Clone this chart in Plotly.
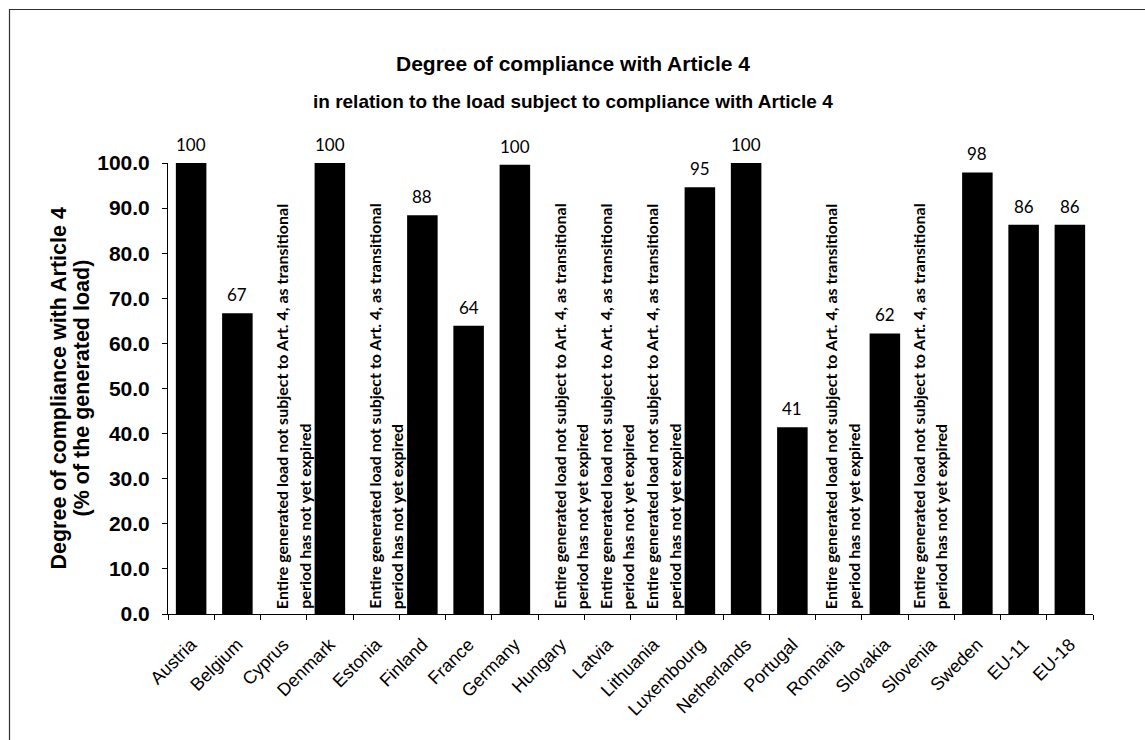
import plotly.graph_objects as go

# ---- data -------------------------------------------------------------
countries = ["Austria", "Belgium", "Cyprus", "Denmark", "Estonia", "Finland",
             "France", "Germany", "Hungary", "Latvia", "Lithuania",
             "Luxembourg", "Netherlands", "Portugal", "Romania", "Slovakia",
             "Slovenia", "Sweden", "EU-11", "EU-18"]
# % of generated load in compliance; None = transitional period still running
compliance = [100.0, 66.7, None, 100.0, None, 88.4, 63.9, 99.6, None, None,
              None, 94.6, 100.0, 41.4, None, 62.2, None, 97.9, 86.3, 86.3]
y_ticks = [0, 10, 20, 30, 40, 50, 60, 70, 80, 90, 100]

title = "Degree of compliance with Article 4"
subtitle = "in relation to the load subject to compliance with Article 4"
y_title = ["Degree of compliance with Article 4", "(% of the generated load)"]
note_lines = ["Entire generated load not subject to Art. 4, as transitional",
              "period has not yet expired"]

# ---- layout geometry (pixels) -----------------------------------------
W, H = 1145, 740
L, R, T, B = 168, 1093, 163, 614


def px_x(p):
    return (p - L) / (R - L)


def px_y(p):
    return (B - p) / (B - T)


ARIAL = "Liberation Sans, Arial, sans-serif"
NOTE_FONT = "Lato, Carlito, Calibri, sans-serif"
LABEL_FONT = "Lato, Carlito, Calibri, sans-serif"

# small horizontal nudges for the rotated notes
note_nudge = {"Romania": -6, "Slovenia": -11}

fig = go.Figure()
fig.add_trace(go.Bar(
    x=countries, y=compliance,
    marker=dict(color="black", line=dict(width=0)),
    hoverinfo="x+y",
))

annotations = []

# value labels above the bars
for c, v in zip(countries, compliance):
    if v is None:
        continue
    annotations.append(dict(
        x=c, y=v, xref="x", yref="y", text=f"{v:.0f}", showarrow=False,
        yanchor="bottom", xanchor="center", yshift=6,
        font=dict(family=LABEL_FONT, size=17, color="black"),
    ))

# rotated notes for countries without a value
for c, v in zip(countries, compliance):
    if v is not None:
        continue
    nudge = note_nudge.get(c, 0)
    for i, line in enumerate(note_lines):
        annotations.append(dict(
            x=c, y=0, xref="x", yref="y", text=line, showarrow=False,
            textangle=-90, yanchor="bottom", xanchor="center",
            xshift=-2 + 22.5 * i + nudge, yshift=3,
            font=dict(family=NOTE_FONT, size=16, color="black", weight="bold"),
        ))

# titles
annotations.append(dict(
    x=px_x(573), y=px_y(63), xref="paper", yref="paper", text=title,
    showarrow=False, xanchor="center", yanchor="middle",
    font=dict(family=ARIAL, size=21, color="black", weight="bold"),
))
annotations.append(dict(
    x=px_x(573), y=px_y(101), xref="paper", yref="paper", text=subtitle,
    showarrow=False, xanchor="center", yanchor="middle",
    font=dict(family=ARIAL, size=19, color="black", weight="bold"),
))

# y-axis title (two centred lines)
for i, line in enumerate(y_title):
    annotations.append(dict(
        x=px_x(58 + 23 * i), y=0.5, xref="paper", yref="paper", text=line,
        showarrow=False, textangle=-90, xanchor="center", yanchor="middle",
        font=dict(family=ARIAL, size=21.5, color="black", weight="bold"),
    ))

fig.update_layout(
    width=W, height=H,
    margin=dict(l=L, r=W - R, t=T, b=H - B, pad=0),
    paper_bgcolor="white", plot_bgcolor="white",
    bargap=0.34, showlegend=False,
    annotations=annotations,
    shapes=[dict(
        type="rect", xref="paper", yref="paper",
        x0=px_x(9.5), y0=px_y(760), x1=px_x(1160), y1=px_y(9.5),
        line=dict(color="#303030", width=1.2), fillcolor="rgba(0,0,0,0)",
        layer="below",
    )],
    xaxis=dict(
        showline=True, linecolor="black", linewidth=1,
        ticks="outside", tickson="boundaries", ticklen=5, tickcolor="black",
        tickangle=-45, showgrid=False, ticklabelstandoff=12,
        tickfont=dict(family=ARIAL, size=18, color="black"),
    ),
    yaxis=dict(
        range=[0, 100], tickvals=y_ticks, tickformat=".1f",
        showline=True, linecolor="black", linewidth=1,
        ticks="outside", ticklen=5, tickcolor="black",
        showgrid=False, zeroline=False, ticklabelstandoff=8,
        tickfont=dict(family=ARIAL, size=21, color="black", weight="bold"),
    ),
)

fig.write_html("out.html")
